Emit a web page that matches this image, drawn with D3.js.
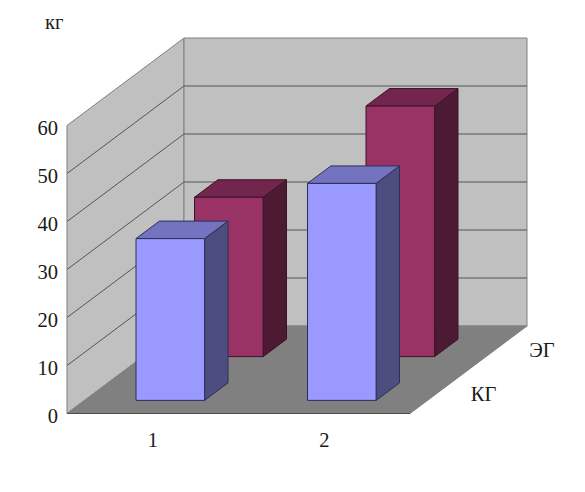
<!DOCTYPE html>
<html><head><meta charset="utf-8">
<script src="https://cdn.jsdelivr.net/npm/d3@7"></script>
<style>html,body{margin:0;padding:0;background:#fff}svg{display:block}text{font-family:"Liberation Serif",serif;font-size:20.5px;fill:#1a1a1a}</style>
</head><body><svg id="c" width="585" height="492"></svg>
<script>
const categories = ["1","2"];
const seriesNames = ["КГ","ЭГ"];            // front to back
const valuesKG = [33.7, 45.2];
const valuesEG = [33.2, 52.2];
const seriesValues = [valuesKG, valuesEG];
const yTicks = [0,10,20,30,40,50,60];
const unitLabel = "кг";
const faceColors = [
  {front:"#9999ff",top:"#7373bf",side:"#4d4d80",edge:"#2e2e55"},
  {front:"#993366",top:"#73264d",side:"#4d1a33",edge:"#3a1526"}
];

const svg = d3.select("#c");
const x = d3.scaleBand().domain(categories).range([67,410]).paddingInner(.6).paddingOuter(.3);
const y = d3.scaleLinear().domain([0,60]).range([413.5,125.5]);
const z = d3.scaleBand().domain(seriesNames).range([0,1]).paddingInner(.6).paddingOuter(.3);
const DX = 117, DY = 87.5;
const P = (px,v,d)=>[px+d*DX, y(v)-d*DY];
const line = d3.line();
const poly = pts => line(pts)+"Z";

const x0=x.range()[0], x1=x.range()[1];
// walls
svg.append("path").attr("d",poly([P(x0,0,0),P(x0,60,0),P(x0,60,1),P(x0,0,1)])).attr("fill","#c0c0c0").attr("stroke","#808080");
svg.append("path").attr("d",poly([P(x0,0,1),P(x0,60,1),P(x1,60,1),P(x1,0,1)])).attr("fill","#c0c0c0").attr("stroke","#808080");
// floor
svg.append("path").attr("d",poly([P(x0,0,0),P(x1,0,0),P(x1,0,1),P(x0,0,1)])).attr("fill","#808080").attr("stroke","#808080");
svg.append("path").attr("d",line([P(x0,0,0),P(x1,0,0)])).attr("fill","none").attr("stroke","#4d4d4d");
// gridlines
yTicks.filter(t=>t>0&&t<60).forEach(t=>{
  svg.append("path").attr("d",line([P(x0,t,0),P(x0,t,1),P(x1,t,1)])).attr("fill","none").attr("stroke","#555").attr("stroke-width",1);
});
// bars, back series first
[1,0].forEach(si=>{
  const s=seriesNames[si], c=faceColors[si], d0=z(s), d1=d0+z.bandwidth();
  const g=svg.append("g");
  categories.forEach((cat,ci)=>{
    const v=seriesValues[si][ci], a=x(cat), b=a+x.bandwidth();
    const add=(pts,fill)=>g.append("path").attr("d",poly(pts)).attr("fill",fill).attr("stroke",c.edge).attr("stroke-width",1);
    add([P(b,0,d0),P(b,v,d0),P(b,v,d1),P(b,0,d1)],c.side);
    add([P(a,v,d0),P(b,v,d0),P(b,v,d1),P(a,v,d1)],c.top);
    add([P(a,0,d0),P(b,0,d0),P(b,v,d0),P(a,v,d0)],c.front);
  });
});
// y axis labels
const yAxis = svg.append("g").attr("transform","translate(67,2.5)")
  .call(d3.axisLeft(y).tickValues(yTicks).tickSize(0).tickPadding(9));
yAxis.select(".domain").remove();
yAxis.attr("font-family",null).attr("font-size",null);
// x labels
const xAxis = svg.append("g").attr("transform","translate(0,414)")
  .call(d3.axisBottom(x).tickSize(0).tickPadding(18));
xAxis.select(".domain").remove();
xAxis.attr("font-family",null).attr("font-size",null);
// series labels along depth
seriesNames.forEach(s=>{
  const p=P(x1,0,z(s)+z.bandwidth()/2);
  svg.append("text").attr("x",p[0]+31.5).attr("y",p[1]+9).text(s);
});
svg.append("text").attr("x",45).attr("y",29).text(unitLabel);
</script></body></html>
